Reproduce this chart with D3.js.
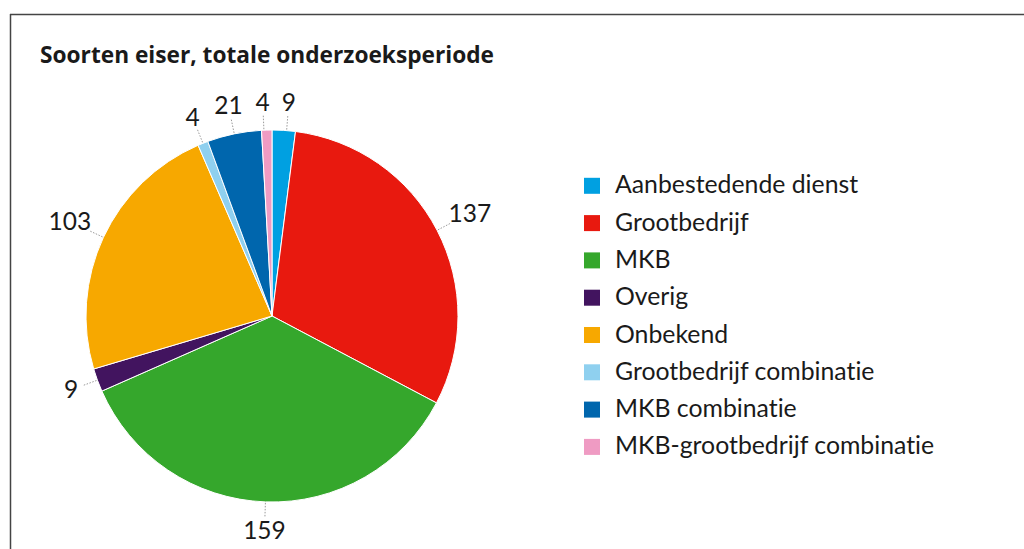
<!DOCTYPE html>
<html>
<head>
<meta charset="utf-8">
<script src="https://cdn.jsdelivr.net/npm/d3@7"></script>
<style>
  html, body { margin: 0; padding: 0; background: #fff; }
  svg { display: block; }
  text { font-family: Lato, "Noto Sans", sans-serif; fill: #1a1a1a; font-variant-ligatures: none; }
</style>
</head>
<body>
<svg id="chart" width="1024" height="549"></svg>
<script>
const title = "Soorten eiser, totale onderzoeksperiode";
const categories = ["Aanbestedende dienst", "Grootbedrijf", "MKB", "Overig", "Onbekend",
                    "Grootbedrijf combinatie", "MKB combinatie", "MKB-grootbedrijf combinatie"];
const values = [9, 137, 159, 9, 103, 4, 21, 4];
const colors = ["#00a0e1", "#e8190f", "#35a72c", "#42145f", "#f7a800", "#8fd0ef", "#0066ad", "#ef9bc3"];

const svg = d3.select("#chart");
const W = 1024, H = 549;

// frame
svg.append("line").attr("x1", 10).attr("x2", W).attr("y1", 14.5).attr("y2", 14.5)
  .attr("stroke", "#444").attr("stroke-width", 1.5);
svg.append("line").attr("x1", 10.5).attr("x2", 10.5).attr("y1", 14).attr("y2", H)
  .attr("stroke", "#444").attr("stroke-width", 1.5);

// title
svg.append("text").attr("x", 40).attr("y", 63)
  .style("font-family", "'Open Sans', 'Noto Sans', sans-serif")
  .style("font-weight", "bold").style("font-size", "22.7px")
  .text(title);

const cx = 272, cy = 316, R = 186;
const data = categories.map((c, i) => ({ cat: c, value: values[i], color: colors[i] }));
const pie = d3.pie().value(d => d.value).sort(null);
const arcs = pie(data);
const arc = d3.arc().innerRadius(0).outerRadius(R);

const g = svg.append("g").attr("transform", `translate(${cx},${cy})`);
g.selectAll("path.slice").data(arcs).join("path")
  .attr("class", "slice")
  .attr("d", arc)
  .attr("fill", d => d.data.color)
  .attr("stroke", "#fff").attr("stroke-width", 1);

// label angles, with a small spread so neighbouring labels do not crowd
const minSep = 7 * Math.PI / 180;
const angs = arcs.map(a => (a.startAngle + a.endAngle) / 2);
for (let it = 0; it < 50; it++) {
  for (let i = 0; i < angs.length; i++) {
    const j = (i + 1) % angs.length;
    let d = angs[j] - angs[i];
    if (j === 0) d += 2 * Math.PI;
    if (d < minSep) {
      const push = (minSep - d) / 2;
      angs[i] -= push; angs[j] += push;
    }
  }
}

arcs.forEach((a, i) => {
  const ang = angs[i];
  const s = Math.sin(ang), c = -Math.cos(ang);
  g.append("line")
    .attr("x1", s * (R + 1)).attr("y1", c * (R + 1))
    .attr("x2", s * (R + 15)).attr("y2", c * (R + 15))
    .attr("stroke", "#9a9a9a").attr("stroke-width", 1)
    .attr("stroke-dasharray", "1.5 1.5");
  const txt = String(a.data.value);
  const rl = 214 + Math.abs(s) * (txt.length - 1) * 5;
  g.append("text")
    .attr("x", s * rl).attr("y", c * rl + 8.5)
    .attr("text-anchor", "middle")
    .style("font-size", "24.5px")
    .text(txt);
});

// legend
const legend = svg.append("g").attr("transform", "translate(584,193.3)");
const rowH = 37.3;
data.forEach((d, i) => {
  const row = legend.append("g").attr("transform", `translate(0,${i * rowH})`);
  row.append("rect").attr("x", 0).attr("y", -15.5).attr("width", 16).attr("height", 16)
    .attr("fill", d.color);
  row.append("text").attr("x", 31).attr("y", 0)
    .style("font-size", "24.8px")
    .text(d.cat);
});
</script>
</body>
</html>
